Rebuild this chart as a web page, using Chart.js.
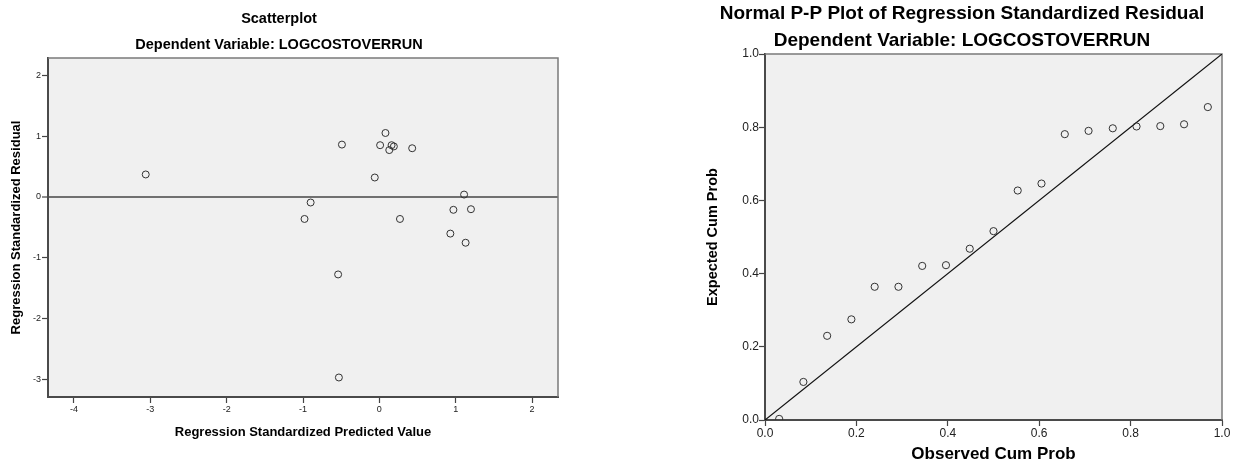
<!DOCTYPE html>
<html lang="en">
<head>
<meta charset="utf-8" />
<title>Regression residual plots</title>
<script src="https://cdn.jsdelivr.net/npm/chart.js@4.4"></script>
<style>
  html,body{margin:0;padding:0;background:#fff;}
  #wrap{position:relative;width:1237px;height:466px;}
  #wrap canvas{position:absolute;top:0;}
  #scatter{left:0;}
  #pp{left:620px;}
</style>
</head>
<body>
<div id="wrap">
  <canvas id="scatter" width="620" height="466"></canvas>
  <canvas id="pp" width="617" height="466"></canvas>
</div>

<script>
/***** ---------- Data ---------- *****/
// scatterplot: standardized predicted value (x) vs standardized residual (y)
const PRED =[-3.06,-0.49,0.08,0.01,0.16,0.19,0.13,0.43,-0.06,1.11,-0.90,-0.98,0.27,0.97,1.20,0.93,1.13,-0.54,-0.53];
const RESID=[0.37,0.86,1.05,0.85,0.85,0.83,0.77,0.80,0.32,0.04,-0.09,-0.36,-0.36,-0.21,-0.20,-0.60,-0.75,-1.27,-2.96];
const SC_X_TICKS=[-4,-3,-2,-1,0,1,2];
const SC_Y_TICKS=[-3,-2,-1,0,1,2];
const SC_X_RANGE=[-4.34,2.34];
const SC_Y_RANGE=[-3.28,2.28];

// normal P-P plot: observed vs expected cumulative probability
const OBS_CUM=[0.031,0.084,0.136,0.189,0.240,0.292,0.344,0.396,0.448,0.500,0.553,0.605,0.656,0.708,0.761,0.813,0.865,0.917,0.969];
const EXP_CUM=[0.003,0.104,0.230,0.275,0.364,0.364,0.421,0.423,0.468,0.516,0.627,0.646,0.781,0.790,0.797,0.802,0.803,0.808,0.855];
const PP_TICKS=[0,0.2,0.4,0.6,0.8,1.0];
const PP_RANGE=[0,1];
const DIAG=[0,1];

/***** ---------- Shared bits ---------- *****/
const FONT='"Liberation Sans",Arial,sans-serif';
Chart.defaults.font.family=FONT;
Chart.defaults.color='#000';

// grey plot background + thin top/right frame (left/bottom come from the axis borders)
const plotFrame={
  id:'plotFrame',
  beforeDraw(chart){
    const {ctx,chartArea:a}=chart;
    ctx.save();
    ctx.fillStyle='#f0f0f0';
    ctx.fillRect(a.left,a.top,a.width,a.height);
    ctx.restore();
  },
  beforeDatasetsDraw(chart){
    const {ctx,chartArea:a}=chart;
    ctx.save();
    ctx.strokeStyle='#7a7a7a';
    ctx.lineWidth=1.5;
    ctx.beginPath();
    ctx.moveTo(a.left,a.top);ctx.lineTo(a.right,a.top);ctx.lineTo(a.right,a.bottom);
    ctx.stroke();
    ctx.restore();
  }
};

function axis(o){
  return {
    type:'linear',position:o.position,min:o.range[0],max:o.range[1],
    afterBuildTicks:s=>{s.ticks=o.ticks.map(v=>({value:v}));},
    afterFit:s=>{if(s.isHorizontal())s.height=o.size;else s.width=o.size;},
    grid:{
      drawOnChartArea:!!o.zeroLine,drawTicks:true,tickLength:6,tickWidth:1.2,tickColor:'#444',
      color:c=>(o.zeroLine&&c.tick&&c.tick.value===0)?'#707070':'rgba(0,0,0,0)',
      lineWidth:c=>(o.zeroLine&&c.tick&&c.tick.value===0)?2:1
    },
    border:{display:true,color:'#4a4a4a',width:2},
    ticks:{font:{size:o.tickSize},color:'#222',padding:o.tickPad,autoSkip:false,maxRotation:0,
      callback:o.fmt},
    title:{display:true,text:o.title,font:{size:o.titleSize,weight:'bold'},padding:o.titlePad}
  };
}

/***** ---------- Scatterplot ---------- *****/
new Chart(document.getElementById('scatter'),{
  type:'scatter',
  data:{datasets:[{
    data:PRED.map((x,i)=>({x,y:RESID[i]})),
    pointStyle:'circle',pointRadius:3.5,borderColor:'#333',borderWidth:1,backgroundColor:'rgba(0,0,0,0)'
  }]},
  options:{
    responsive:false,animation:false,
    layout:{padding:{left:0,right:62,top:0,bottom:0}},
    plugins:{
      legend:{display:false},tooltip:{enabled:false},
      title:{display:true,text:['Scatterplot','Dependent Variable: LOGCOSTOVERRUN'],
        font:{size:14.5,weight:'bold',lineHeight:26/14.5},padding:{top:6,bottom:0}}
    },
    scales:{
      x:axis({position:'bottom',range:SC_X_RANGE,ticks:SC_X_TICKS,size:69,tickSize:9,tickPad:1,
        fmt:v=>String(v),title:'Regression Standardized Predicted Value',titleSize:13,titlePad:{top:0,bottom:26}}),
      y:axis({position:'left',range:SC_Y_RANGE,ticks:SC_Y_TICKS,size:48,tickSize:9,tickPad:1,zeroLine:true,
        fmt:v=>String(v),title:'Regression Standardized Residual',titleSize:13,titlePad:{top:9,bottom:0}})
    }
  },
  plugins:[plotFrame]
});

/***** ---------- Normal P-P plot ---------- *****/
new Chart(document.getElementById('pp'),{
  type:'scatter',
  data:{datasets:[
    {
      data:OBS_CUM.map((x,i)=>({x,y:EXP_CUM[i]})),
      clip:{left:6,top:6,right:6,bottom:0},
      pointStyle:'circle',pointRadius:3.6,borderColor:'#333',borderWidth:1,backgroundColor:'rgba(0,0,0,0)'
    },
    {
      data:DIAG.map(v=>({x:v,y:v})),
      showLine:true,borderColor:'#111',borderWidth:1.2,pointRadius:0
    }
  ]},
  options:{
    responsive:false,animation:false,
    layout:{padding:{left:82,right:15,top:0,bottom:0}},
    plugins:{
      legend:{display:false},tooltip:{enabled:false},
      title:{display:true,text:['Normal P-P Plot of Regression Standardized Residual','Dependent Variable: LOGCOSTOVERRUN'],
        font:{size:19,weight:'bold',lineHeight:27/19},padding:{top:0,bottom:0}}
    },
    scales:{
      x:axis({position:'bottom',range:PP_RANGE,ticks:PP_TICKS,size:46,tickSize:12,tickPad:0,
        fmt:v=>v.toFixed(1),title:'Observed Cum Prob',titleSize:17,titlePad:{top:0,bottom:1}}),
      y:axis({position:'left',range:PP_RANGE,ticks:PP_TICKS,size:63,tickSize:12,tickPad:0,
        fmt:v=>v.toFixed(1),title:'Expected Cum Prob',titleSize:14.5,titlePad:{top:2,bottom:0}})
    }
  },
  plugins:[plotFrame]
});
</script>
</body>
</html>
